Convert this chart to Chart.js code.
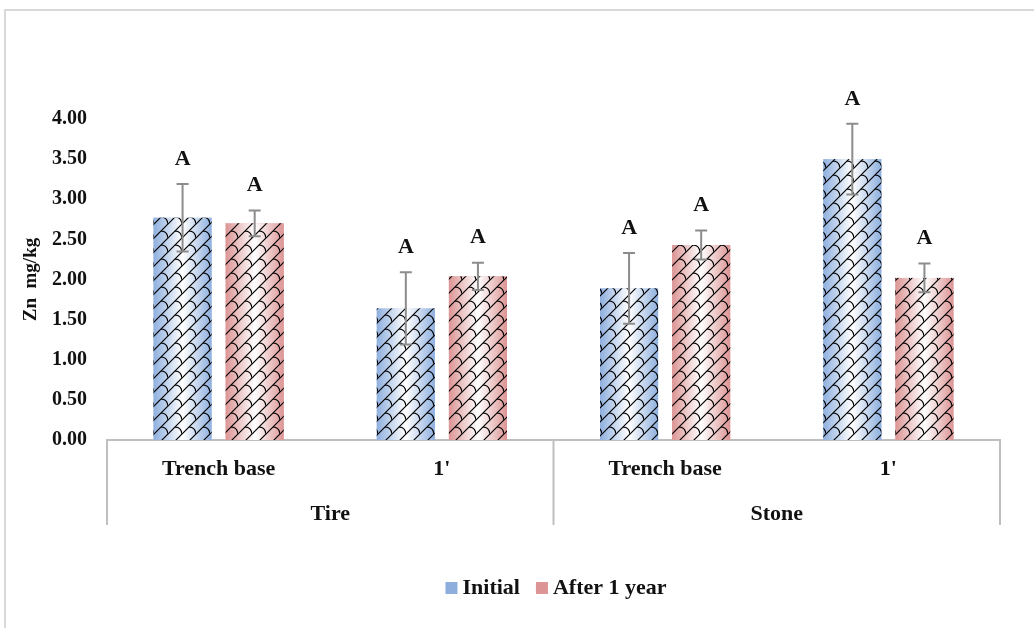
<!DOCTYPE html>
<html>
<head>
<meta charset="utf-8">
<script src="https://cdn.jsdelivr.net/npm/chart.js@4.4.1/dist/chart.umd.min.js"></script>
<style>
    html, body { margin: 0; padding: 0; background: #fff; }
    #wrap { width: 1034px; height: 628px; }
</style>
</head>
<body>
<div id="wrap"><canvas id="zncanvas"></canvas></div>
<script>
// data
const categories = ['Trench base', "1'", 'Trench base', "1'"];
const groups = ['Tire', 'Stone'];
const initialVals = [2.77, 1.64, 1.89, 3.50];
const initialErr = [0.42, 0.45, 0.44, 0.44];
const afterVals = [2.70, 2.04, 2.43, 2.02];
const afterErr = [0.16, 0.17, 0.18, 0.18];
const initialLetters = ['A', 'A', 'A', 'A'];
const afterLetters = ['A', 'A', 'A', 'A'];
const yTickStep = 0.5;

const SERIF = "'Liberation Serif', 'Times New Roman', serif";
const TEXT = '#111';
const LINE = '#bfbfbf';

// shingle-like hatch tile
function makeTile() {
    const c = document.createElement('canvas');
    c.width = 14;
    c.height = 14;
    const g = c.getContext('2d');
    g.strokeStyle = '#000';
    g.lineWidth = 1.2;
    g.beginPath();
    g.moveTo(-2, 16); g.lineTo(16, -2);
    g.moveTo(-2, 2); g.lineTo(2, -2);
    g.moveTo(12, 16); g.lineTo(16, 12);
    g.moveTo(7, 7); g.quadraticCurveTo(13, 7, 14, 14);
    g.stroke();
    return c;
}
const tile = makeTile();

function fillBar(ctx, left, top, w, h, edge) {
    const grad = ctx.createLinearGradient(left, 0, left + w, 0);
    grad.addColorStop(0, edge);
    grad.addColorStop(0.5, '#ffffff');
    grad.addColorStop(1, edge);
    ctx.fillStyle = grad;
    ctx.fillRect(left, top, w, h);
    ctx.fillStyle = ctx.createPattern(tile, 'repeat');
    ctx.fillRect(left, top, w, h);
}

const decorate = {
    id: 'decorate',
    beforeDraw(chart) {
        const ctx = chart.ctx;
        ctx.save();
        ctx.strokeStyle = '#d9d9d9';
        ctx.lineWidth = 2;
        ctx.beginPath();
        ctx.moveTo(5, 628);
        ctx.lineTo(5, 10);
        ctx.lineTo(1034, 10);
        ctx.stroke();
        ctx.restore();
    },
    afterDatasetsDraw(chart) {
        const ctx = chart.ctx;
        const ys = chart.scales.y;
        ctx.save();
        chart.data.datasets.forEach((ds, di) => {
            const meta = chart.getDatasetMeta(di);
            meta.data.forEach((bar, i) => {
                const p = bar.getProps(['x', 'y', 'base', 'width'], true);
                fillBar(ctx, p.x - p.width / 2, p.y, p.width, p.base - p.y, ds.edgeColor);

                // error bars
                const hi = ys.getPixelForValue(ds.data[i] + ds.errors[i]);
                const lo = ys.getPixelForValue(ds.data[i] - ds.errors[i]);
                ctx.strokeStyle = '#8c8c8c';
                ctx.lineWidth = 2;
                ctx.beginPath();
                ctx.moveTo(p.x, hi); ctx.lineTo(p.x, lo);
                ctx.moveTo(p.x - 6, hi); ctx.lineTo(p.x + 6, hi);
                ctx.moveTo(p.x - 6, lo); ctx.lineTo(p.x + 6, lo);
                ctx.stroke();

                // significance letter
                ctx.fillStyle = TEXT;
                ctx.font = 'bold 22px ' + SERIF;
                ctx.textAlign = 'center';
                ctx.textBaseline = 'middle';
                ctx.fillText(ds.letters[i], p.x, hi - 25);
            });
        });
        ctx.restore();
    },
    afterDraw(chart) {
        const ctx = chart.ctx;
        const xs = chart.scales.x;
        const area = chart.chartArea;
        ctx.save();

        // group dividers
        const mid = (xs.getPixelForTick(1) + xs.getPixelForTick(2)) / 2;
        ctx.strokeStyle = LINE;
        ctx.lineWidth = 2;
        ctx.beginPath();
        [area.left, mid, area.right].forEach(x => {
            ctx.moveTo(x, area.bottom);
            ctx.lineTo(x, 525);
        });
        ctx.stroke();

        // group labels
        ctx.fillStyle = TEXT;
        ctx.font = 'bold 22px ' + SERIF;
        ctx.textAlign = 'center';
        ctx.textBaseline = 'middle';
        groups.forEach((g, gi) => {
            const cx = (xs.getPixelForTick(gi * 2) + xs.getPixelForTick(gi * 2 + 1)) / 2;
            ctx.fillText(g, cx, 514);
        });

        // legend
        const items = chart.data.datasets.map(ds => ({ label: ds.label, edge: ds.edgeColor }));
        ctx.font = 'bold 22px ' + SERIF;
        const box = 12, gap = 5, spacing = 16;
        const widths = items.map(it => box + gap + ctx.measureText(it.label).width);
        const total = widths.reduce((a, b) => a + b, 0) + spacing * (items.length - 1);
        let lx = 556 - total / 2;
        const ly = 588;
        items.forEach((it, k) => {
            ctx.fillStyle = it.edge;
            ctx.fillRect(lx, ly - box / 2, box, box);
            ctx.fillStyle = TEXT;
            ctx.textAlign = 'left';
            ctx.fillText(it.label, lx + box + gap, ly);
            lx += widths[k] + spacing;
        });
        ctx.restore();
    }
};

const chartdata = {
    labels: categories,
    datasets: [{
        label: 'Initial',
        data: initialVals,
        errors: initialErr,
        letters: initialLetters,
        edgeColor: '#8eafde',
        backgroundColor: '#c6d7ef',
        barPercentage: 0.806,
        categoryPercentage: 0.646
    }, {
        label: 'After 1 year',
        data: afterVals,
        errors: afterErr,
        letters: afterLetters,
        edgeColor: '#dc9494',
        backgroundColor: '#efc4c4',
        barPercentage: 0.806,
        categoryPercentage: 0.646
    }]
};

const ctx = document.getElementById('zncanvas');
new Chart(ctx, {
    type: 'bar',
    data: chartdata,
    plugins: [decorate],
    options: {
        responsive: true,
        maintainAspectRatio: false,
        animation: false,
        layout: { padding: { top: 119, right: 34, left: 0, bottom: 0 } },
        plugins: {
            legend: { display: false },
            tooltip: { enabled: false }
        },
        scales: {
            x: {
                grid: { display: false, drawTicks: false },
                border: { display: true, color: LINE, width: 2 },
                ticks: {
                    color: TEXT,
                    padding: 16,
                    maxRotation: 0,
                    font: { family: SERIF, size: 22, weight: 'bold' }
                },
                afterFit(scale) { scale.height = 188; }
            },
            y: {
                min: 0,
                max: 4,
                grid: { display: false, drawTicks: false },
                border: { display: false },
                ticks: {
                    stepSize: yTickStep,
                    color: TEXT,
                    padding: 20,
                    font: { family: SERIF, size: 20, weight: 'bold' },
                    callback: v => Number(v).toFixed(2)
                },
                title: {
                    display: true,
                    text: 'Zn  mg/kg',
                    color: TEXT,
                    padding: { top: 20, bottom: 0 },
                    font: { family: SERIF, size: 19, weight: 'bold' }
                },
                afterFit(scale) { scale.width = 107; }
            }
        }
    }
});
</script>
</body>
</html>
